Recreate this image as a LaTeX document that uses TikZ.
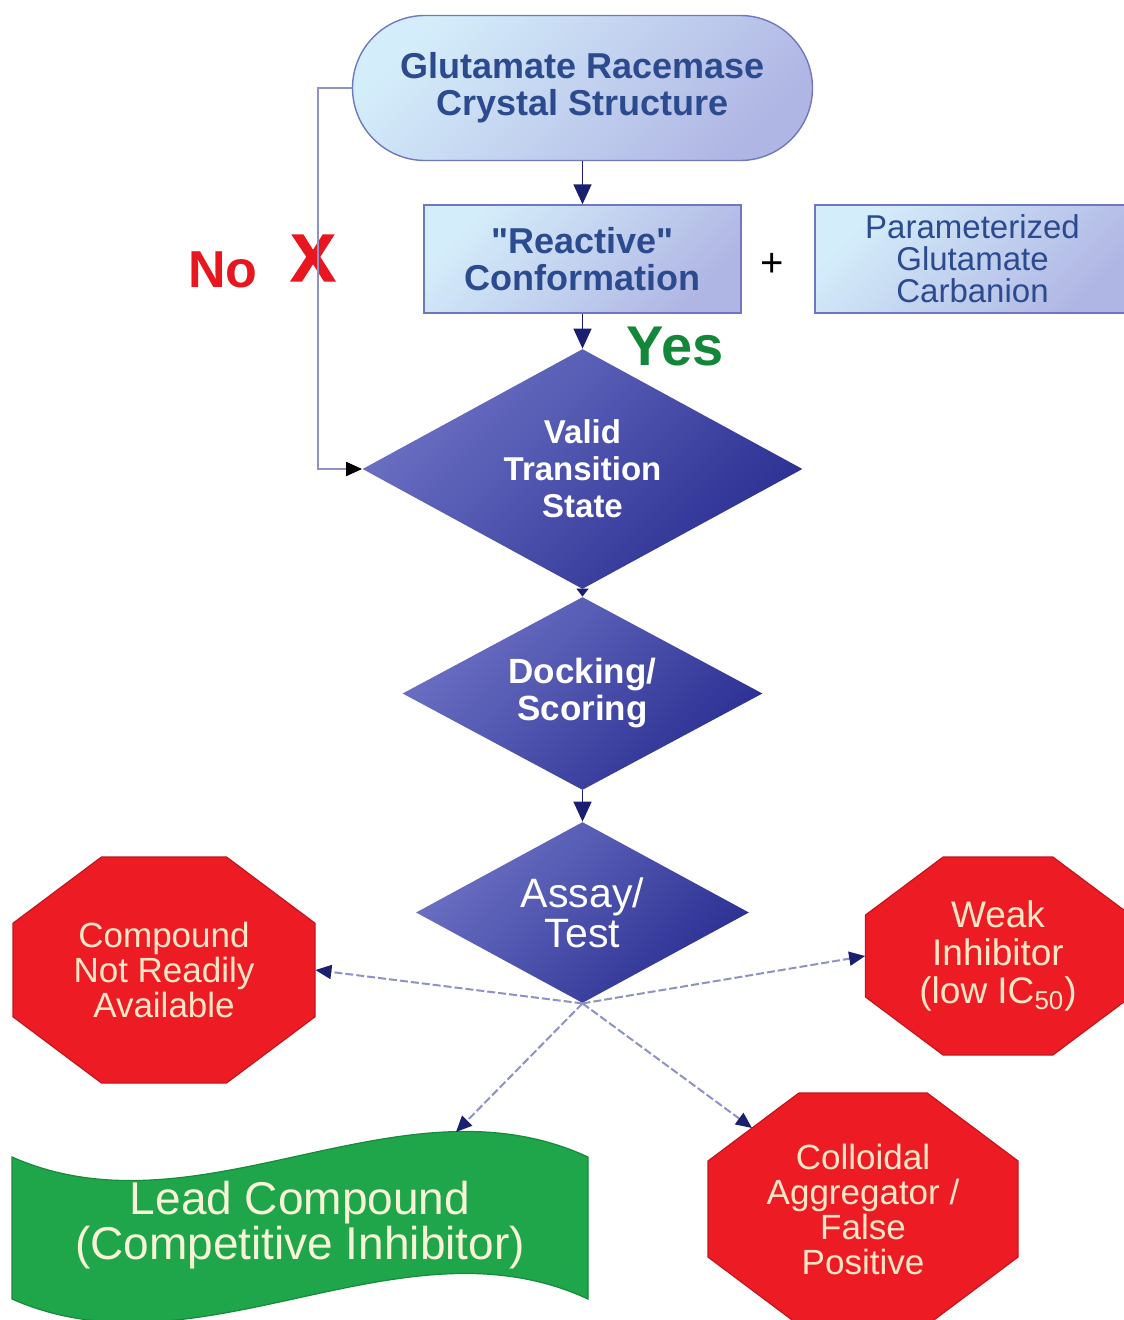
\documentclass[tikz,border=0pt]{standalone}
\usepackage{fontspec}
\setmainfont{Liberation Sans}[Ligatures=TeXOff]
\newfontfamily\heavyfont{Liberation Sans Bold}[FakeBold=2.5]
\usetikzlibrary{shapes.geometric,shapes.misc,arrows.meta,calc}
\definecolor{boxA}{HTML}{D4EDFA}
\definecolor{boxB}{HTML}{B0B6E4}
\definecolor{boxedge}{HTML}{6E77C0}
\definecolor{txtblue}{HTML}{2C4B8F}
\definecolor{diamA}{HTML}{6C71C4}
\definecolor{diamB}{HTML}{2A2F92}
\definecolor{navy}{HTML}{1A1F70}
\definecolor{lav}{HTML}{8E92C6}
\definecolor{octred}{HTML}{ED1C24}
\definecolor{octedge}{HTML}{C4161C}
\definecolor{octtxt}{HTML}{FFE6C6}
\definecolor{leadgreen}{HTML}{1FA64A}
\definecolor{leadedge}{HTML}{178A3B}
\definecolor{leadtxt}{HTML}{F8F3D6}
\definecolor{yesgreen}{HTML}{12873A}
\definecolor{nored}{HTML}{E8161E}
\newcommand{\myoct}[4]{%
  \filldraw[fill=octred,draw=octedge,line width=0.6pt]
    ({#1-0.207*#3},{#2-#4/2}) -- ({#1+0.207*#3},{#2-#4/2}) --
    ({#1+#3/2},{#2-0.207*#4}) -- ({#1+#3/2},{#2+0.207*#4}) --
    ({#1+0.207*#3},{#2+#4/2}) -- ({#1-0.207*#3},{#2+#4/2}) --
    ({#1-#3/2},{#2+0.207*#4}) -- ({#1-#3/2},{#2-0.207*#4}) -- cycle;}
\begin{document}
\begin{tikzpicture}[x=0.5pt,y=-0.5pt,
  termstyle/.style={rounded rectangle, draw=boxedge, line width=0.7pt,
    top color=boxA, bottom color=boxB, shading angle=45, inner sep=0pt,
    text=txtblue, align=center, font=\bfseries\fontsize{18}{18.5}\selectfont},
  boxstyle/.style={rectangle, draw=boxedge, line width=0.7pt,
    top color=boxA, bottom color=boxB, shading angle=45, inner sep=0pt,
    text=txtblue, align=center},
  diam/.style={diamond, aspect=2, inner sep=0pt, top color=diamA, bottom color=diamB,
    shading angle=45, text=white, align=center},
  octtext/.style={rectangle, inner sep=0pt, text=octtxt, align=center,
    font=\fontsize{17.5}{17.5}\selectfont},
  arr/.style={draw=navy, line width=0.8pt, -{Triangle[length=10pt,width=9pt]}},
  arrsmall/.style={draw=navy, line width=0.8pt, -{Triangle[length=4pt,width=6pt]}},
  fb/.style={draw=lav, line width=1pt, -{Triangle[length=8pt,width=7pt,fill=black,color=black]}},
  darr/.style={draw=lav, line width=1pt, dash pattern=on 4pt off 1.5pt,
    -{Triangle[length=8pt,width=7pt,fill=navy,color=navy]}}
]
\useasboundingbox (0,0) rectangle (1123,1320);
\fill[white] (0,0) rectangle (1123,1320);

% top terminator
\node[termstyle, minimum width=230pt, minimum height=72.5pt] (term) at (582.5,88)
  {Glutamate Racemase\\Crystal Structure};

% boxes
\node[boxstyle, minimum width=158.5pt, minimum height=54pt,
  font=\bfseries\fontsize{18}{18.5}\selectfont] (react) at (582.5,259)
  {"Reactive"\\Conformation};
\node[text=black, font=\fontsize{20}{20}\selectfont] (plus) at (772,265) {+};
\node[boxstyle, minimum width=157.5pt, minimum height=54pt,
  font=\fontsize{16.5}{16}\selectfont] (param) at (972.5,259)
  {Parameterized\\Glutamate\\Carbanion};

% diamonds
\node[diam, minimum width=220pt, minimum height=120pt,
  font=\bfseries\fontsize{16.5}{18.5}\selectfont] (valid) at (582.5,469)
  {Valid\\Transition\\State};
\node[diam, minimum width=180pt, minimum height=96.5pt,
  font=\bfseries\fontsize{17.5}{18.5}\selectfont] (dock) at (582.5,693.5)
  {Docking/\\Scoring};
\node[diam, minimum width=166.5pt, minimum height=90.5pt,
  font=\fontsize{20.5}{20}\selectfont] (assay) at (582.5,912.5)
  {Assay/\\Test};

% labels
\node[text=yesgreen, font=\bfseries\fontsize{28}{28}\selectfont] (yes) at (675,347) {Yes};
\node[text=nored, font=\bfseries\fontsize{26}{26}\selectfont] (no) at (223,270) {No};
\node[text=nored, font=\heavyfont\fontsize{33}{33}\selectfont] (xmark) at (313,258) {X};

% octagons
\myoct{164}{970}{302}{226}
\node[octtext, minimum width=151pt, minimum height=113pt] (compound) at (164,970)
  {Compound\\Not Readily\\Available};
\myoct{998}{956}{265}{198}
\node[octtext, minimum width=132.5pt, minimum height=99pt,
  font=\fontsize{18.5}{19}\selectfont] (weak) at (998,956)
  {Weak\\Inhibitor\\(low IC\textsubscript{50})};
\myoct{863}{1209}{310}{232}
\node[octtext, minimum width=155pt, minimum height=116pt] (coll) at (863,1209)
  {Colloidal\\Aggregator /\\False\\Positive};

% lead compound wave
\filldraw[fill=leadgreen, draw=leadedge, line width=0.6pt]
  (12,1157) .. controls (200,1240) and (400,1070) .. (588,1157)
  -- (588,1299) .. controls (400,1212) and (200,1382) .. (12,1299) -- cycle;
\node[text=leadtxt, align=center, font=\fontsize{23}{22.5}\selectfont] (lead) at (300,1225)
  {Lead Compound\\(Competitive Inhibitor)};
\coordinate (leadin) at (456,1132);
\coordinate (collin) at (752,1128);

% connectors
\draw[arr] (term.south) -- (react.north);
\draw[arr] (react.south) -- (valid.north);
\draw[arrsmall] (valid.south) -- (dock.north);
\draw[arr] (dock.south) -- (assay.north);
\draw[fb] (term.west) -- ++(-34,0) |- (valid.west);
\draw[darr] (assay.south) -- (compound.east);
\draw[darr] (assay.south) -- (weak.west);
\draw[darr] (assay.south) -- (leadin);
\draw[darr] (assay.south) -- (collin);
\end{tikzpicture}
\end{document}
